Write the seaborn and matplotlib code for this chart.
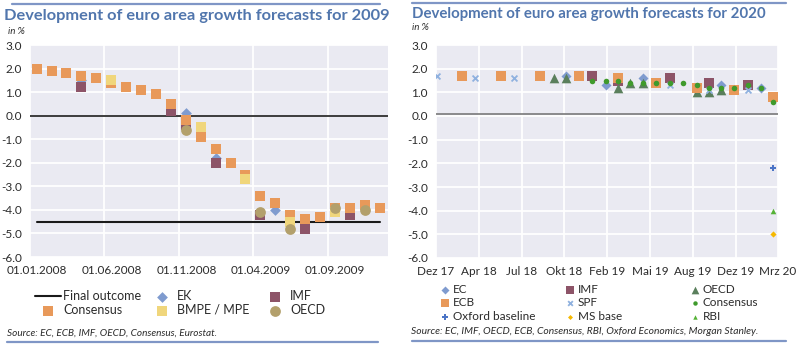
import matplotlib
matplotlib.use("Agg")
import matplotlib.pyplot as plt
from matplotlib.lines import Line2D
from matplotlib.transforms import ScaledTranslation
import pandas as pd
import seaborn as sns

# ---------------- data: forecasts for 2009 ----------------
consensus09_dates = ["2008-01-15", "2008-02-15", "2008-03-15", "2008-04-15", "2008-05-15", "2008-06-15",
                     "2008-07-15", "2008-08-15", "2008-09-15", "2008-10-15", "2008-11-15", "2008-12-15",
                     "2009-01-15", "2009-02-15", "2009-03-15", "2009-04-15", "2009-05-15", "2009-06-15",
                     "2009-07-15", "2009-08-15", "2009-09-15", "2009-10-15", "2009-11-15", "2009-12-15"]
consensus09 = [2.0, 1.9, 1.8, 1.7, 1.6, 1.4, 1.2, 1.1, 0.9, 0.5, -0.2, -0.9,
               -1.4, -2.0, -2.5, -3.4, -3.7, -4.2, -4.4, -4.3, -3.9, -3.9, -3.8, -3.9]
ek09_dates = ["2008-04-15", "2008-11-15", "2009-01-15", "2009-05-15"]
ek09 = [1.5, 0.1, -1.8, -4.0]
imf09_dates = ["2008-04-15", "2008-10-15", "2008-11-15", "2009-01-15", "2009-04-15", "2009-07-15", "2009-10-15"]
imf09 = [1.2, 0.2, -0.4, -2.0, -4.2, -4.8, -4.2]
bmpe09_dates = ["2008-06-15", "2008-12-15", "2009-03-15", "2009-06-15", "2009-09-15"]
bmpe09 = [1.5, -0.5, -2.7, -4.5, -4.1]
oecd09_dates = ["2008-11-15", "2009-04-15", "2009-06-15", "2009-09-15", "2009-11-15"]
oecd09 = [-0.6, -4.1, -4.8, -3.9, -4.0]
final_dates = ["2008-01-15", "2009-12-15"]
final_outcome = [-4.5, -4.5]

ticks09 = ["2008-01-01", "2008-06-01", "2008-11-01", "2009-04-01", "2009-09-01"]
ticklabels09 = ["01.01.2008", "01.06.2008", "01.11.2008", "01.04.2009", "01.09.2009"]
xlim09 = ["2008-01-01", "2010-01-01"]

# ---------------- data: forecasts for 2020 ----------------
ec20_dates = ["2018-10-29", "2019-02-01", "2019-05-02", "2019-11-06", "2020-02-10"]
ec20 = [1.7, 1.3, 1.6, 1.3, 1.2]
imf20_dates = ["2018-12-30", "2019-03-02", "2019-07-06", "2019-10-08", "2020-01-10"]
imf20 = [1.7, 1.5, 1.6, 1.4, 1.3]
oecd20_dates = ["2018-09-29", "2018-10-29", "2019-03-02", "2019-04-02", "2019-05-02",
                "2019-09-08", "2019-10-08", "2019-11-06"]
oecd20 = [1.6, 1.6, 1.2, 1.4, 1.4, 1.0, 1.0, 1.1]
ecb20_dates = ["2018-02-21", "2018-05-26", "2018-08-28", "2018-11-30", "2019-03-02",
               "2019-06-03", "2019-09-08", "2019-12-08", "2020-03-10"]
ecb20 = [1.7, 1.7, 1.7, 1.7, 1.6, 1.4, 1.2, 1.1, 0.8]
spf20_dates = ["2017-12-23", "2018-03-24", "2018-06-26", "2019-07-06", "2019-10-08", "2020-01-10"]
spf20 = [1.7, 1.6, 1.6, 1.3, 1.1, 1.1]
consensus20_dates = ["2018-12-30", "2019-02-01", "2019-03-02", "2019-04-02", "2019-05-02",
                     "2019-06-03", "2019-07-06", "2019-08-07", "2019-09-08", "2019-10-08",
                     "2019-11-06", "2019-12-08", "2020-01-10", "2020-02-10", "2020-03-10"]
consensus20 = [1.5, 1.5, 1.5, 1.4, 1.4, 1.4, 1.4, 1.4, 1.3, 1.2, 1.2, 1.2, 1.3, 1.2, 0.6]
oxford20_dates = ["2020-03-10"]
oxford20 = [-2.2]
ms20_dates = ["2020-03-10"]
ms20 = [-5.0]
rbi20_dates = ["2020-03-10"]
rbi20 = [-4.0]
ref_line20 = [0.1, 0.1]
ref_line20_dates = ["2017-12-20", "2020-03-22"]

ticks20 = ["2017-12-20", "2018-04-02", "2018-07-14", "2018-10-25", "2019-02-05",
           "2019-05-19", "2019-08-30", "2019-12-11", "2020-03-22"]
ticklabels20 = ["Dez 17", "Apr 18", "Jul 18", "Okt 18", "Feb 19", "Mai 19", "Aug 19", "Dez 19", "Mrz 20"]
xlim20 = ["2017-12-20", "2020-03-22"]

yticks = [3.0, 2.0, 1.0, 0.0, -1.0, -2.0, -3.0, -4.0, -5.0, -6.0]

# ---------------- styling ----------------
sns.set_theme(style="darkgrid")
plt.rcParams["font.family"] = ["Lato", "DejaVu Sans"]
plt.rcParams["axes.facecolor"] = "#eaeaf2"

TITLE_C = "#5176ad"
RULE_C = "#7f96c6"
TEXT_C = "#2b2b2b"

W, H = 800, 344
fig = plt.figure(figsize=(W / 100, H / 100), dpi=100)


def px_axes(x0, y0, x1, y1):
    return fig.add_axes([x0 / W, 1 - y1 / H, (x1 - x0) / W, (y1 - y0) / H])


def to_dt(lst):
    return pd.to_datetime(pd.Series(lst))


def dots(ax, d, v, **kw):
    kw.setdefault("linewidth", 0)
    sns.scatterplot(x=to_dt(d), y=v, ax=ax, legend=False, **kw)


def style_axes(ax, ticks, labels, xlim, shift_px=0):
    ax.set_xlim(pd.to_datetime(xlim[0]), pd.to_datetime(xlim[1]))
    ax.set_ylim(-6, 3)
    ax.set_yticks(yticks)
    ax.set_yticklabels([f"{t:.1f}" for t in yticks])
    ax.set_xticks(pd.to_datetime(ticks))
    ax.set_xticklabels(labels)
    ax.set_xlabel("")
    ax.set_ylabel("")
    ax.tick_params(axis="both", labelsize=8.5, colors=TEXT_C, pad=6, length=0)
    ax.grid(True, color="white", linewidth=1.3)
    for s in ax.spines.values():
        s.set_visible(False)
    if shift_px:
        off = ScaledTranslation(shift_px / 100, 0, fig.dpi_scale_trans)
        for lab in ax.get_xticklabels():
            lab.set_transform(lab.get_transform() + off)


# ---------------- left panel: 2009 ----------------
axL = px_axes(30, 45, 388, 257)
axL.axhline(0, color="#3c3c3c", linewidth=1.4, zorder=1.5)
sns.lineplot(x=to_dt(final_dates), y=final_outcome, ax=axL, color="#1a1a1a",
             linewidth=1.5, label="Final outcome", legend=False)
dots(axL, ek09_dates, ek09, marker="D", s=30, color="#7f9bcf", label="EK", zorder=3)
dots(axL, imf09_dates, imf09, marker="s", s=55, color="#8d5468", label="IMF", zorder=3)
dots(axL, consensus09_dates, consensus09, marker="s", s=55, color="#e8995a", label="Consensus", zorder=3)
dots(axL, bmpe09_dates, bmpe09, marker="s", s=55, color="#f0d67c", label="BMPE / MPE", zorder=3)
dots(axL, oecd09_dates, oecd09, marker="o", s=60, color="#b3a06c", label="OECD", zorder=3)
style_axes(axL, ticks09, ticklabels09, xlim09, shift_px=7)

# ---------------- right panel: 2020 ----------------
axR = px_axes(436, 45, 778, 258)
sns.lineplot(x=to_dt(ref_line20_dates), y=ref_line20, ax=axR, color="#7a7a7a",
             linewidth=1.2, legend=False)
dots(axR, ec20_dates, ec20, marker="D", s=26, color="#7f9bcf", label="EC", zorder=3)
dots(axR, imf20_dates, imf20, marker="s", s=42, color="#8d5468", label="IMF", zorder=3)
dots(axR, oecd20_dates, oecd20, marker="^", s=48, color="#5a7f5c", label="OECD", zorder=3)
dots(axR, ecb20_dates, ecb20, marker="s", s=42, color="#e8995a", label="ECB", zorder=3)
dots(axR, spf20_dates, spf20, marker="x", s=18, color="#8fb1df", linewidth=1.3, label="SPF", zorder=3)
dots(axR, consensus20_dates, consensus20, marker="o", s=16, color="#3f9a2c", label="Consensus", zorder=4)
dots(axR, oxford20_dates, oxford20, marker="P", s=22, color="#4b74c6", label="Oxford baseline", zorder=4)
dots(axR, ms20_dates, ms20, marker="D", s=10, color="#f5b800", label="MS base", zorder=4)
dots(axR, rbi20_dates, rbi20, marker="^", s=16, color="#55b236", label="RBI", zorder=4)
style_axes(axR, ticks20, ticklabels20, xlim20)

for ax in (axL, axR):
    if ax.get_legend() is not None:
        ax.get_legend().remove()

# ---------------- legends ----------------
hL, lL = axL.get_legend_handles_labels()
byL = dict(zip(lL, hL))
colsL = [["Final outcome", "Consensus"], ["EK", "BMPE / MPE"], ["IMF", "OECD"]]
for xs, names in zip([35, 149, 262], colsL):
    fig.legend([byL[n] for n in names], names, loc="center left",
               bbox_to_anchor=(xs / W, 1 - 303 / H), frameon=False, fontsize=9,
               handlelength=2.1, handletextpad=0.15, labelspacing=0.15,
               borderpad=0, borderaxespad=0, labelcolor=TEXT_C)

hR, lR = axR.get_legend_handles_labels()
byR = dict(zip(lR, hR))
colsR = [["EC", "ECB", "Oxford baseline"], ["IMF", "SPF", "MS base"], ["OECD", "Consensus", "RBI"]]
for xs, names in zip([441, 566, 691], colsR):
    fig.legend([byR[n] for n in names], names, loc="center left",
               bbox_to_anchor=(xs / W, 1 - 303 / H), frameon=False, fontsize=8.5,
               handlelength=0.7, handletextpad=0.3, labelspacing=0.2, markerscale=0.8,
               borderpad=0, borderaxespad=0, labelcolor=TEXT_C, scatterpoints=1)

# ---------------- titles, notes, rules ----------------
fig.text(4 / W, 1 - 16 / H, "Development of euro area growth forecasts for 2009",
         fontsize=11.8, fontweight="bold", color=TITLE_C, va="center", ha="left")
fig.text(412 / W, 1 - 14 / H, "Development of euro area growth forecasts for 2020",
         fontsize=10.8, fontweight="bold", color=TITLE_C, va="center", ha="left")
fig.text(8 / W, 1 - 31 / H, "in %", fontsize=7, style="italic", color=TEXT_C, va="center")
fig.text(412 / W, 1 - 28 / H, "in %", fontsize=7, style="italic", color=TEXT_C, va="center")
fig.text(7 / W, 1 - 333 / H, "Source: EC, ECB, IMF, OECD, Consensus, Eurostat.",
         fontsize=7.2, style="italic", color=TEXT_C, va="center")
fig.text(411 / W, 1 - 331 / H,
         "Source: EC, IMF, OECD, ECB, Consensus, RBI, Oxford Economics, Morgan Stanley.",
         fontsize=7.4, style="italic", color=TEXT_C, va="center")

for (x0, x1, y) in [(12, 380, 4), (412, 786, 3), (7, 378, 341.5), (412, 786, 341)]:
    fig.add_artist(Line2D([x0 / W, x1 / W], [1 - y / H, 1 - y / H],
                          transform=fig.transFigure, color=RULE_C, linewidth=1.6))

fig.savefig("out.png", dpi=100, facecolor="white")
